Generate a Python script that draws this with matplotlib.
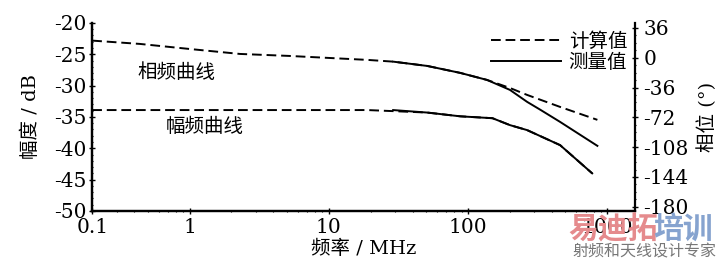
import matplotlib
matplotlib.use("Agg")
import matplotlib.pyplot as plt
from matplotlib.ticker import MultipleLocator, LogLocator, NullFormatter

plt.rcParams["font.family"] = ["DejaVu Serif", "Noto Sans CJK SC"]
plt.rcParams["axes.unicode_minus"] = False

# phase (deg), calculated and measured
phase_calc_f = [0.2, 0.44, 1, 2.3, 5.2, 19, 29, 51, 88, 137, 200, 266, 459, 850]
phase_calc = [20.7, 16.7, 10.6, 4.6, 2.2, -2.6, -4.7, -9.9, -18.3, -26.8, -36.5, -44.9, -59.4, -75.0]
phase_meas_f = [29, 51, 88, 137, 200, 266, 330, 459, 608, 850]
phase_meas = [-4.7, -9.9, -18.3, -26.8, -38.8, -53.3, -62.7, -77.5, -90.7, -106.4]

# amplitude (dB), calculated and measured
amp_calc_f = [0.2, 1, 5, 19, 51, 88, 150, 200, 266, 459, 780]
amp_calc = [-33.9, -33.9, -33.9, -33.9, -34.3, -34.9, -35.2, -36.3, -37.1, -39.5, -44.0]
amp_meas_f = [29, 51, 88, 150, 200, 266, 459, 780]
amp_meas = [-33.9, -34.3, -34.9, -35.2, -36.3, -37.1, -39.5, -44.0]

x_ticks = [0.2, 1, 10, 100, 1000]
x_labels = ["0.1", "1", "10", "100", "1000"]
amp_ticks = [-50, -45, -40, -35, -30, -25, -20]
phase_ticks = [-180, -144, -108, -72, -36, 0, 36]

fig = plt.figure(figsize=(7.26, 2.64), dpi=100)
ax = fig.add_axes([0.127, 0.201, 0.748, 0.712])
ax2 = ax.twinx()

dash = (5, 2.5)
l_calc, = ax.plot(amp_calc_f, amp_calc, color="black", lw=1.4, dashes=dash, label="计算值")
l_meas, = ax.plot(amp_meas_f, amp_meas, color="black", lw=1.4, label="测量值")
ax2.plot(phase_calc_f, phase_calc, color="black", lw=1.4, dashes=dash)
ax2.plot(phase_meas_f, phase_meas, color="black", lw=1.4)

ax.set_xscale("log")
ax.set_xlim(0.2, 1590)
ax.set_ylim(-50, -20)
ax2.set_ylim(-185, 42)

ax.set_xticks(x_ticks)
ax.set_xticklabels(x_labels)
ax.xaxis.set_minor_locator(LogLocator(base=10, subs=range(2, 10)))
ax.xaxis.set_minor_formatter(NullFormatter())
ax.set_yticks(amp_ticks)
ax.yaxis.set_minor_locator(MultipleLocator(1))
ax2.set_yticks(phase_ticks)
ax2.yaxis.set_minor_locator(MultipleLocator(9))

for a in (ax, ax2):
    a.spines["top"].set_visible(False)
    for s in a.spines.values():
        s.set_linewidth(1.6)
    a.tick_params(which="major", direction="inout", length=4, width=1.0, labelsize=14.5)
    a.tick_params(which="minor", direction="inout", length=2, width=0.8)
ax.spines["right"].set_visible(False)
ax.tick_params(axis="y", pad=2)
ax.tick_params(axis="x", pad=3)
ax2.tick_params(axis="y", pad=4)

ax.set_ylabel("幅度 / dB", fontsize=14, labelpad=10)
ax2.set_ylabel("相位 (°)", fontsize=14, rotation=90, labelpad=6)
ax.set_xlabel("频率 / MHz", fontsize=14, labelpad=2)

ax.text(0.155, 0.734, "相频曲线", transform=ax.transAxes, fontsize=14, ha="center", va="center")
ax.text(0.207, 0.447, "幅频曲线", transform=ax.transAxes, fontsize=14, ha="center", va="center")

ax2.legend(handles=[l_calc, l_meas], loc="upper right", bbox_to_anchor=(0.985, 0.95),
           frameon=False, fontsize=14, handlelength=3.6, handletextpad=0.4,
           labelspacing=0.15, borderpad=0, borderaxespad=0)

# site watermark in the lower right corner
fig.text(0.783, 0.132, "易迪拓", color="#e58b8d", fontsize=21.5, fontweight="bold",
         ha="left", va="center", family="Noto Sans CJK SC")
fig.text(0.9, 0.132, "培训", color="#86a3cf", fontsize=21.5, fontweight="bold",
         ha="left", va="center", family="Noto Sans CJK SC")
fig.text(0.788, 0.045, "射频和天线设计专家", color="#777777", fontsize=11.5,
         ha="left", va="center", family="Noto Sans CJK SC")

fig.savefig("out.png", dpi=100)
